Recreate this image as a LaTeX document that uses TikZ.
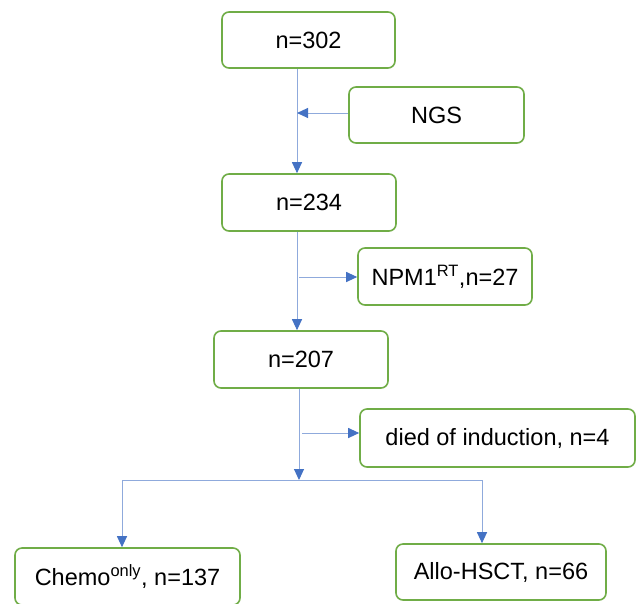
\documentclass[tikz,border=0pt]{standalone}
\usepackage{fontspec}
\setmainfont{Liberation Sans}
\usetikzlibrary{arrows.meta}

\definecolor{boxgreen}{HTML}{70AD47}
\definecolor{linkblue}{HTML}{8FAADC}
\definecolor{tipblue}{HTML}{4472C4}

\begin{document}
\begin{tikzpicture}[x=1pt, y=-1pt,
  stage/.style={draw=boxgreen, line width=1.6pt, rounded corners=7pt,
    fill=white, inner sep=0pt, font=\fontsize{23.5}{28}\selectfont},
  link/.style={draw=linkblue, line width=1pt},
  arr/.style={link, -{Triangle[width=10pt, length=11pt, color=tipblue]}}]

  \useasboundingbox (0,0) rectangle (636,603);
  \clip (0,0) rectangle (636,603);

  % boxes on the trunk
  \node[stage, minimum width=173pt, minimum height=56pt] (n302) at (308.5,40) {n=302};
  \node[stage, minimum width=174pt, minimum height=57pt] (n234) at (309,202.5) {n=234};
  \node[stage, minimum width=174pt, minimum height=57pt] (n207) at (301,359.5) {n=207};

  % side boxes
  \node[stage, minimum width=175pt, minimum height=56pt] (ngs) at (436.5,115) {NGS};
  \node[stage, minimum width=174pt, minimum height=57pt] (npm) at (445,276.5)
    {NPM1\textsuperscript{RT},n=27\hspace{6pt}};
  \node[stage, minimum width=275pt, minimum height=58pt] (died) at (497.5,438)
    {died of induction, n=4\hspace{20pt}};

  % end boxes
  \node[stage, minimum width=225pt, minimum height=57pt] (chemo) at (127.5,576.5)
    {Chemo\textsuperscript{only}, n=137\hspace{16pt}};
  \node[stage, minimum width=210pt, minimum height=56pt] (allo) at (501,572)
    {Allo-HSCT, n=66\hspace{10pt}};

  \coordinate (j1) at (297,113);
  \coordinate (j2) at (297,277);
  \coordinate (j3) at (299,433);
  \coordinate (split) at (299,480);
  \coordinate (sl) at (122,480);
  \coordinate (sr) at (482,480);

  \draw[arr] (n302.south -| j1) -- (n234.north -| j1); %% 302->234
  \draw[arr] (ngs.west |- j1) -- (j1); %% NGS->trunk

  \draw[arr] (n234.south -| j2) -- (n207.north -| j2); %% 234->207
  \draw[arr] ([xshift=2pt]j2) -- (npm.west |- j2); %% trunk->NPM1

  \draw[arr] (n207.south -| split) -- (split); %% 207->split
  \draw[arr] ([xshift=3pt]j3) -- (died.west |- j3); %% trunk->died

  \draw[link] (sl) -- (sr);
  \draw[arr] (sl) -- (chemo.north -| sl); %% split->chemo
  \draw[arr] (sr) -- (allo.north -| sr); %% split->allo
\end{tikzpicture}
\end{document}
